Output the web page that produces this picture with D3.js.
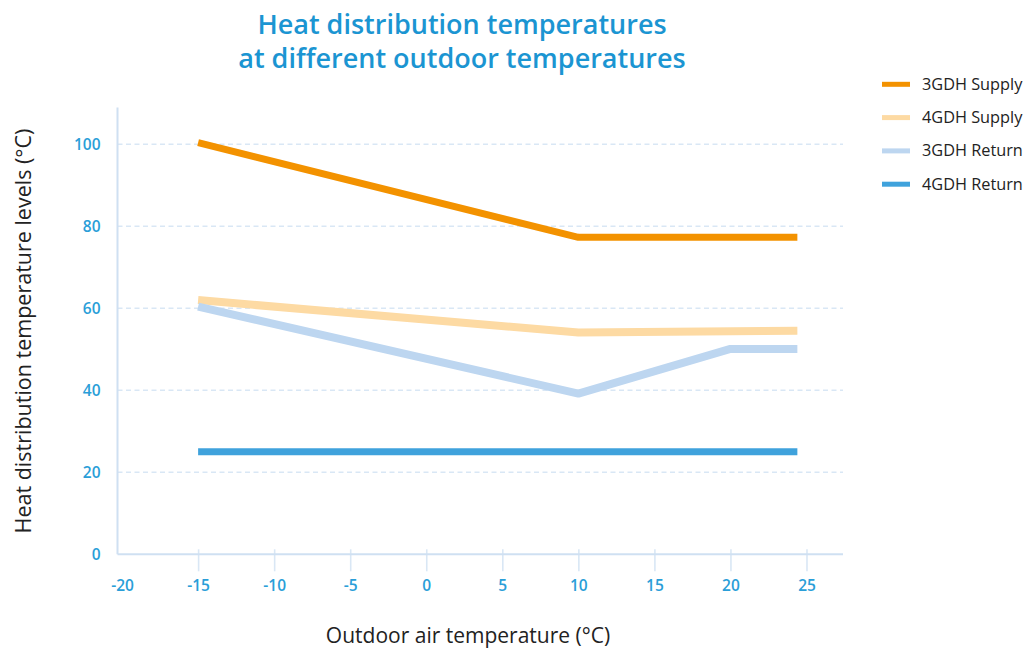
<!DOCTYPE html>
<html>
<head>
<meta charset="utf-8">
<script src="https://cdn.jsdelivr.net/npm/d3@7"></script>
<style>
  html, body { margin: 0; padding: 0; background: #fff; }
  svg { display: block; }
</style>
</head>
<body>
<svg id="chart" width="1029" height="650"></svg>
<script>
// Outdoor air temperature (°C) breakpoints for each series
const supply3X = [-15, 10, 24.4];
const supply3Y = [100.4, 77.3, 77.3];
const supply4X = [-15, 10, 24.4];
const supply4Y = [62.0, 54.1, 54.5];
const return3X = [-15, 10, 20, 24.4];
const return3Y = [60.4, 39.2, 50.1, 50.1];
const return4X = [-15, 24.4];
const return4Y = [25.0, 25.0];

const seriesNames = ["3GDH Supply", "4GDH Supply", "3GDH Return", "4GDH Return"];
const seriesColors = ["#F39200", "#FDDAA3", "#BDD6F0", "#3FA2DC"];
const seriesWidths = [7, 8, 8, 7];

const xTicks = [-20, -15, -10, -5, 0, 5, 10, 15, 20, 25];
const yTicks = [0, 20, 40, 60, 80, 100];
const gridValues = [20, 40, 60, 80, 100];

const titleLines = ["Heat distribution temperatures", "at different outdoor temperatures"];

const series = [
  { xs: supply3X, ys: supply3Y },
  { xs: supply4X, ys: supply4Y },
  { xs: return3X, ys: return3Y },
  { xs: return4X, ys: return4Y }
].map((s, i) => ({
  name: seriesNames[i],
  color: seriesColors[i],
  width: seriesWidths[i],
  points: s.xs.map((x, j) => ({ x, y: s.ys[j] }))
}));

const svg = d3.select("#chart");
const font = "'Open Sans', 'DejaVu Sans', sans-serif";
const blue = "#2A9ED8";
const axisColor = "#CFE0F2";
const gridColor = "#D9E7F5";

const x = d3.scaleLinear().domain([-20.3, 27.4]).range([117.5, 843]);
const y = d3.scaleLinear().domain([0, 109]).range([554.3, 107.4]);

// Title
svg.append("g")
  .selectAll("text")
  .data(titleLines)
  .join("text")
  .attr("x", 462)
  .attr("y", (d, i) => 34 + i * 34)
  .attr("text-anchor", "middle")
  .attr("font-family", font)
  .attr("font-weight", 600)
  .attr("font-size", 27)
  .attr("fill", "#1B95D2")
  .text(d => d);

// Dashed horizontal gridlines
svg.append("g")
  .selectAll("line")
  .data(gridValues)
  .join("line")
  .attr("x1", x.range()[0])
  .attr("x2", x.range()[1])
  .attr("y1", d => y(d))
  .attr("y2", d => y(d))
  .attr("stroke", gridColor)
  .attr("stroke-width", 1.6)
  .attr("stroke-dasharray", "5,3.5");

// X axis (plain hyphen for negative values)
const xAxis = svg.append("g")
  .attr("transform", `translate(0,${y(0)})`)
  .call(d3.axisBottom(x).tickValues(xTicks).tickSize(17).tickPadding(9).tickFormat(d => String(d)));
xAxis.select(".domain").remove();
xAxis.selectAll(".tick line")
  .attr("y1", -5)
  .attr("stroke", gridColor)
  .attr("stroke-width", 1.6)
  .attr("display", d => d === -20 ? "none" : null);
xAxis.selectAll(".tick text")
  .attr("font-family", font)
  .attr("font-size", 15.5)
  .attr("font-weight", 600)
  .attr("fill", blue);

// Y axis
const yAxis = svg.append("g")
  .attr("transform", `translate(${x.range()[0]},0)`)
  .call(d3.axisLeft(y).tickValues(yTicks).tickSize(0).tickPadding(17));
yAxis.select(".domain").remove();
yAxis.selectAll(".tick text")
  .attr("font-family", font)
  .attr("font-size", 15.5)
  .attr("font-weight", 600)
  .attr("fill", blue);

// Axis lines
svg.append("line")
  .attr("x1", x.range()[0]).attr("x2", x.range()[0])
  .attr("y1", y.range()[1]).attr("y2", y(0))
  .attr("stroke", axisColor).attr("stroke-width", 2);
svg.append("line")
  .attr("x1", x.range()[0]).attr("x2", x.range()[1])
  .attr("y1", y(0)).attr("y2", y(0))
  .attr("stroke", axisColor).attr("stroke-width", 2);

// Series lines
const line = d3.line().x(d => x(d.x)).y(d => y(d.y));
svg.append("g")
  .selectAll("path")
  .data(series)
  .join("path")
  .attr("d", d => line(d.points))
  .attr("fill", "none")
  .attr("stroke", d => d.color)
  .attr("stroke-width", d => d.width)
  .attr("stroke-linejoin", "round")
  .attr("stroke-linecap", "butt");

// Axis titles
svg.append("text")
  .attr("transform", "translate(31,331) rotate(-90)")
  .attr("text-anchor", "middle")
  .attr("font-family", font)
  .attr("font-size", 21.5)
  .attr("fill", "#222")
  .text("Heat distribution temperature levels (°C)");
svg.append("text")
  .attr("x", 468)
  .attr("y", 643)
  .attr("text-anchor", "middle")
  .attr("font-family", font)
  .attr("font-size", 21)
  .attr("fill", "#222")
  .text("Outdoor air temperature (°C)");

// Legend
const legend = svg.append("g")
  .selectAll("g")
  .data(series)
  .join("g")
  .attr("transform", (d, i) => `translate(882,${84.3 + i * 33.3})`);
legend.append("line")
  .attr("x1", 0).attr("x2", 28)
  .attr("stroke", d => d.color)
  .attr("stroke-width", 5);
legend.append("text")
  .attr("x", 40)
  .attr("y", 5.5)
  .attr("font-family", font)
  .attr("font-size", 16.3)
  .attr("fill", "#222")
  .text(d => d.name);
</script>
</body>
</html>
